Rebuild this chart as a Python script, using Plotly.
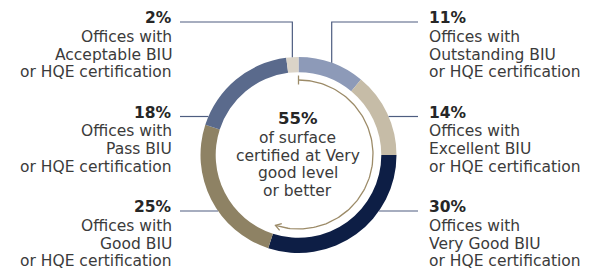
import math
import plotly.graph_objects as go

# ---- data ----
categories = ["Outstanding", "Excellent", "Very Good", "Good", "Pass", "Acceptable"]
values = [11, 14, 30, 25, 18, 2]
colors = ["#8d9ab8", "#c6bca7", "#0d1e45", "#8e8264", "#5a6a8c", "#dbd4c8"]
label_lines = [
    ["Offices with", "Outstanding BIU", "or HQE certification"],
    ["Offices with", "Excellent BIU", "or HQE certification"],
    ["Offices with", "Very Good BIU", "or HQE certification"],
    ["Offices with", "Good BIU", "or HQE certification"],
    ["Offices with", "Pass BIU", "or HQE certification"],
    ["Offices with", "Acceptable BIU", "or HQE certification"],
]
center_pct = sum(values[:3])  # Very good level or better
center_lines = ["of surface", "certified at Very", "good level", "or better"]

W, H = 596, 274
OFF = 8  # page body margin offset
CX, CY, R = 298.5, 155.0, 98.0
HOLE = 0.845
FONT = "DejaVu Sans"
TXT = "#3b3b3b"
LINE_C = "#4e5d80"
ARROW_C = "#9c8b68"
FS = 15.5
PAD = 1

fig = go.Figure()
fcx, fcy = CX - OFF, CY - OFF
fig.add_trace(go.Pie(
    values=values, labels=categories, sort=False, direction="clockwise",
    rotation=0, hole=HOLE, marker=dict(colors=colors, line=dict(width=0)),
    textinfo="none", hoverinfo="label+percent", showlegend=False,
    domain=dict(x=[(fcx - R) / W, (fcx + R) / W],
                y=[(H - fcy - R) / H, (H - fcy + R) / H]),
))

right_x, left_x = 430, 171
row_y = [18, 112.5, 207]
line_dy = [18.5, 36.5, 54]
slot_list = [("R", 0), ("R", 1), ("R", 2), ("L", 2), ("L", 1), ("L", 0)]

total = sum(values)
cum = 0
mid_angles = []
for v in values:
    mid_angles.append((cum + v / 2) / total * 360)
    cum += v

base = dict(showarrow=False, xref="x", yref="y", yanchor="middle", borderpad=0, borderwidth=0)
shapes = []
annotations = []
for i, (side, row) in enumerate(slot_list):
    y0 = row_y[row]
    xa = (right_x - PAD) if side == "R" else (left_x + PAD)
    anchor = "left" if side == "R" else "right"
    annotations.append(dict(base, x=xa, y=y0, text=f"<b>{values[i]}%</b>", xanchor=anchor,
                            font=dict(family=FONT, size=15.5, color="#262626")))
    for k, t in enumerate(label_lines[i]):
        annotations.append(dict(base, x=xa, y=y0 + line_dy[k], text=t, xanchor=anchor,
                                font=dict(family=FONT, size=FS, color=TXT)))
    ly = y0 + 4
    lx_text = (right_x - 12) if side == "R" else (left_x + 9)
    if row == 0:
        a = math.radians(mid_angles[i])
        px = CX + R * math.sin(a)
        py = CY - R * math.cos(a)
        path = f"M {lx_text},{ly} L {px},{ly} L {px},{py}"
    else:
        dy = ly - CY
        dx = math.sqrt(max(R * R - dy * dy, 0))
        px = CX + dx if side == "R" else CX - dx
        path = f"M {lx_text},{ly} L {px},{ly}"
    shapes.append(dict(type="path", path=path, xref="x", yref="y",
                       line=dict(color=LINE_C, width=1.2)))

annotations.append(dict(base, x=CX - 1, y=118, text=f"<b>{center_pct}%</b>", xanchor="center",
                        font=dict(family=FONT, size=16.5, color="#262626")))
for k, t in enumerate(center_lines):
    annotations.append(dict(base, x=CX - 1, y=138 + k * 17.5, text=t, xanchor="center",
                            font=dict(family=FONT, size=FS, color=TXT)))

# circular arrow spanning the "very good or better" share
ar = 74.5
acx, acy = CX, 154.5
end_deg = center_pct / total * 360
n = 120
xs, ys = [], []
for j in range(n + 1):
    t = math.radians(end_deg * j / n)
    xs.append(acx + ar * math.sin(t))
    ys.append(acy - ar * math.cos(t))
fig.add_trace(go.Scatter(x=xs, y=ys, mode="lines", line=dict(color=ARROW_C, width=1.3),
                         hoverinfo="skip", showlegend=False))
fig.add_trace(go.Scatter(x=[acx, acx], y=[acy - ar - 4.5, acy - ar + 4.5], mode="lines",
                         line=dict(color=ARROW_C, width=1.3), hoverinfo="skip", showlegend=False))
te = math.radians(end_deg)
ex, ey = xs[-1], ys[-1]
dxv, dyv = math.cos(te), math.sin(te)
nxv, nyv = -dyv, dxv
hl, hw = 5.5, 3.5
wing1 = (ex - dxv * hl + nxv * hw, ey - dyv * hl + nyv * hw)
wing2 = (ex - dxv * hl - nxv * hw, ey - dyv * hl - nyv * hw)
fig.add_trace(go.Scatter(x=[wing1[0], ex, wing2[0]], y=[wing1[1], ey, wing2[1]], mode="lines",
                         line=dict(color=ARROW_C, width=1.3), hoverinfo="skip", showlegend=False))

fig.update_layout(
    width=W, height=H, margin=dict(l=0, r=0, t=0, b=0),
    paper_bgcolor="white", plot_bgcolor="rgba(0,0,0,0)",
    xaxis=dict(range=[OFF, W + OFF], visible=False, fixedrange=True),
    yaxis=dict(range=[H + OFF, OFF], visible=False, fixedrange=True),
    shapes=shapes, annotations=annotations,
)
fig.write_html("out.html")
